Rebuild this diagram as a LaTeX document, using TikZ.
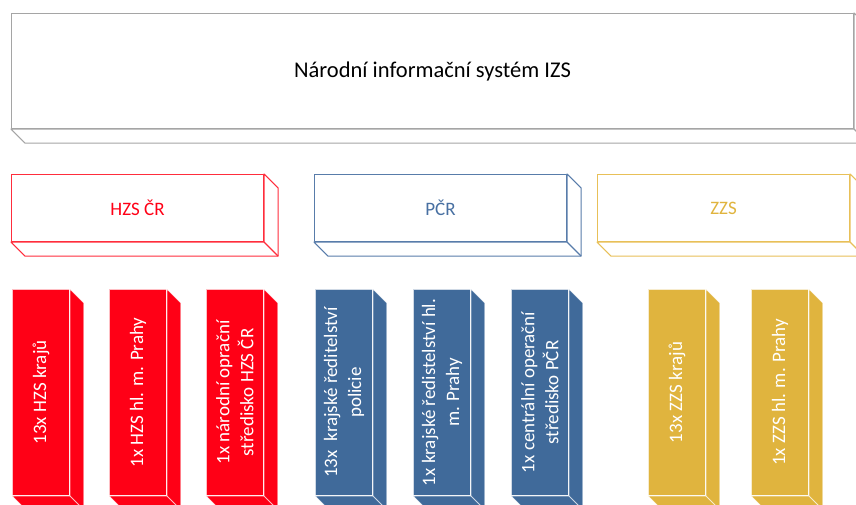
\documentclass[tikz,border=0pt]{standalone}
\usepackage{fontspec}
\setmainfont{Carlito}
\definecolor{topgrey}{RGB}{165,165,165}
\definecolor{hzsred}{RGB}{255,0,22}
\definecolor{hzsline}{RGB}{255,45,60}
\definecolor{pcrblue}{RGB}{64,106,154}
\definecolor{pcrline}{RGB}{88,124,170}
\definecolor{pcrtext}{RGB}{72,112,162}
\definecolor{zzsgold}{RGB}{224,180,62}
\definecolor{zzsline}{RGB}{232,192,88}
\begin{document}
\begin{tikzpicture}[x=1pt,y=-1pt]
\useasboundingbox (0,0) rectangle (856,505);
\clip (0,0) rectangle (856,505);
\tikzset{
  face/.style={rectangle, inner sep=0pt, anchor=north west, line join=round},
  topface/.style={face, draw=topgrey, line width=1.1pt, fill=white, minimum width=842pt, minimum height=115pt, font=\fontsize{22.5}{27}\selectfont},
  midface/.style={face, line width=1.1pt, fill=white, minimum width=252pt, minimum height=67pt, font=\fontsize{19}{23}\selectfont},
  lowface/.style={face, draw=white, draw opacity=0.75, line width=0.9pt, minimum width=57pt, minimum height=206pt},
  lowtext/.style={rotate=90, align=center, text=white, font=\fontsize{19}{24}\selectfont, inner sep=0pt},
}
\newcommand\cubeside[3]{%
  \draw[#3, fill=#2, line join=round] (#1.south west) -- ++(14,14) -- ([shift={(14,14)}]#1.south east) -- ([shift={(14,14)}]#1.north east) -- (#1.north east) -- (#1.south east) -- cycle;
  \draw[#3] (#1.south east) -- ([shift={(14,14)}]#1.south east);
}
% top level
\node[topface] (izs) at (11,13) {Národní informační systém IZS};
\cubeside{izs}{white}{draw=topgrey, line width=1.1pt}
% second level
\node[midface, draw=hzsline, text=hzsred] (hzs) at (11,174) {HZS ČR};
\cubeside{hzs}{white}{draw=hzsline, line width=1.1pt}
\node[midface, draw=pcrline, text=pcrtext] (pcr) at (314,174) {PČR};
\cubeside{pcr}{white}{draw=pcrline, line width=1.1pt}
\node[midface, draw=zzsline, text=zzsgold] (zzs) at (597,174) {ZZS};
\cubeside{zzs}{white}{draw=zzsline, line width=1.1pt}
% bottom level - HZS
\node[lowface, fill=hzsred] (h1) at (12,289) {};
\cubeside{h1}{hzsred}{draw=white, draw opacity=0.75, line width=0.9pt}
\node[lowtext] (th1) at (h1.center) {13x HZS krajů};
\node[lowface, fill=hzsred] (h2) at (109,289) {};
\cubeside{h2}{hzsred}{draw=white, draw opacity=0.75, line width=0.9pt}
\node[lowtext] (th2) at (h2.center) {1x HZS hl. m. Prahy};
\node[lowface, fill=hzsred] (h3) at (206,289) {};
\cubeside{h3}{hzsred}{draw=white, draw opacity=0.75, line width=0.9pt}
\node[lowtext] (th3) at (h3.center) {1x národní oprační\\středisko HZS ČR};
% bottom level - PCR
\node[lowface, fill=pcrblue] (p1) at (315,289) {};
\cubeside{p1}{pcrblue}{draw=white, draw opacity=0.75, line width=0.9pt}
\node[lowtext] (tp1) at (p1.center) {13x\ \ krajské ředitelství\\policie};
\node[lowface, fill=pcrblue] (p2) at (413,289) {};
\cubeside{p2}{pcrblue}{draw=white, draw opacity=0.75, line width=0.9pt}
\node[lowtext] (tp2) at (p2.center) {1x krajské ředistelství hl.\\m. Prahy};
\node[lowface, fill=pcrblue] (p3) at (511,289) {};
\cubeside{p3}{pcrblue}{draw=white, draw opacity=0.75, line width=0.9pt}
\node[lowtext] (tp3) at (p3.center) {1x centrální operační\\středisko PČR};
% bottom level - ZZS
\node[lowface, fill=zzsgold] (z1) at (648,289) {};
\cubeside{z1}{zzsgold}{draw=white, draw opacity=0.75, line width=0.9pt}
\node[lowtext] (tz1) at (z1.center) {13x ZZS krajů};
\node[lowface, fill=zzsgold] (z2) at (751,289) {};
\cubeside{z2}{zzsgold}{draw=white, draw opacity=0.75, line width=0.9pt}
\node[lowtext] (tz2) at (z2.center) {1x ZZS hl. m. Prahy};
\end{tikzpicture}
\end{document}
